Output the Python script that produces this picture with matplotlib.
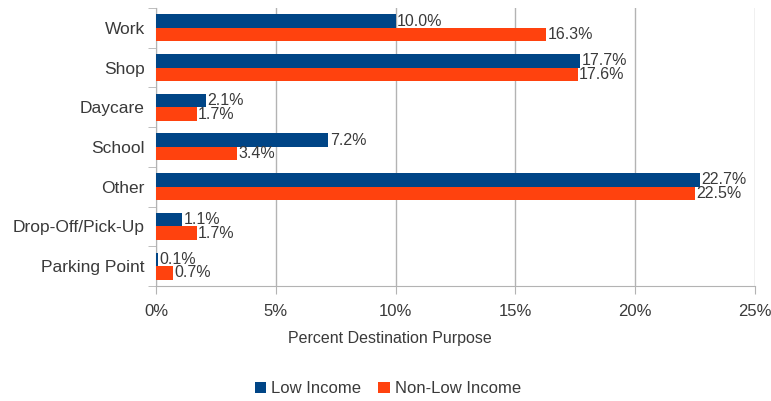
import matplotlib.pyplot as plt
import numpy as np

plt.rcParams['font.family'] = ['Liberation Sans', 'DejaVu Sans']

# data
categories = ['Work', 'Shop', 'Daycare', 'School', 'Other', 'Drop-Off/Pick-Up', 'Parking Point']
low_income = [10.0, 17.7, 2.1, 7.2, 22.7, 1.1, 0.1]
non_low_income = [16.3, 17.6, 1.7, 3.4, 22.5, 1.7, 0.7]
x_ticks = [0, 5, 10, 15, 20, 25]

blue = '#004586'
orange = '#ff420e'
txt = '#3a3a3a'
grid = '#b3b3b3'

fig = plt.figure(figsize=(7.71, 4.01), dpi=100)
ax = fig.add_axes([0.2023, 0.287, 0.7767, 0.693])

y = np.arange(len(categories))
h = 0.34
ax.barh(y - h / 2, low_income, height=h, color=blue, label='Low Income', zorder=3)
ax.barh(y + h / 2, non_low_income, height=h, color=orange, label='Non-Low Income', zorder=3)

# value labels at the bar ends
for yy, v in zip(y, low_income):
    ax.text(v + 0.06, yy - h / 2, f'{v:.1f}%', va='center', ha='left', fontsize=11.5, color=txt, zorder=4)
for yy, v in zip(y, non_low_income):
    ax.text(v + 0.06, yy + h / 2, f'{v:.1f}%', va='center', ha='left', fontsize=11.5, color=txt, zorder=4)

ax.set_xlim(0, 25)
ax.set_ylim(len(categories) - 0.5, -0.5)
ax.set_xticks(x_ticks)
ax.set_xticklabels([f'{t}%' for t in x_ticks], fontsize=12, color=txt)
ax.set_yticks(y)
ax.set_yticklabels(categories, fontsize=12.5, color=txt)
ax.set_yticks(np.arange(len(categories) + 1) - 0.5, minor=True)

ax.tick_params(axis='y', which='major', length=0, pad=8)
ax.tick_params(axis='y', which='minor', length=6, color=grid)
ax.tick_params(axis='x', length=6, color=grid, pad=7)

ax.xaxis.grid(True, color=grid, linewidth=1, zorder=0)
for s in ['top', 'right']:
    ax.spines[s].set_visible(False)
for s in ['left', 'bottom']:
    ax.spines[s].set_color(grid)

fig.text(0.506, 0.155, 'Percent Destination Purpose', ha='center', va='center', fontsize=11.5, color=txt)

fig.legend(loc='center', bbox_to_anchor=(0.503, 0.03), ncol=2, frameon=False,
           fontsize=12, labelcolor=txt, handlelength=0.7, handleheight=0.7,
           handletextpad=0.3, columnspacing=1.0)

fig.savefig('out.png', dpi=100)
